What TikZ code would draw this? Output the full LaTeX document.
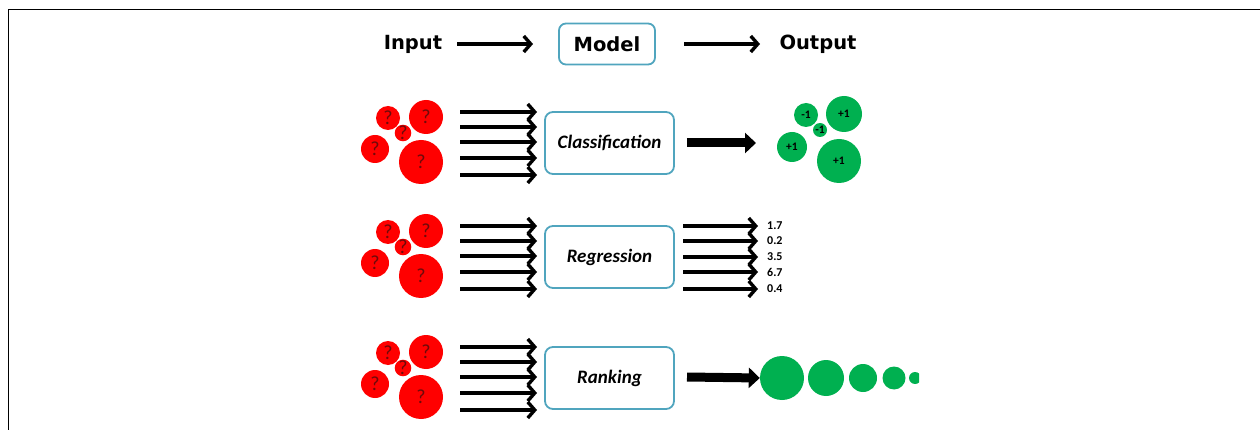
\documentclass[tikz,border=0pt]{standalone}
\usepackage{fontspec}
\setmainfont{Carlito}
\newfontfamily\headfont{DejaVu Sans}
\usetikzlibrary{arrows.meta}
\definecolor{boxblue}{RGB}{80,165,190}
\definecolor{gr}{RGB}{0,176,80}
\definecolor{qm}{RGB}{110,10,10}
\begin{document}
\begin{tikzpicture}[x=1pt,y=-1pt,
  arr/.style={line width=3.4pt,-{Straight Barb[length=7pt,width=16pt]}},
  thick arr/.style={line width=9pt,-{Triangle[length=11pt,width=20pt]}},
  mbox/.style={draw=boxblue,line width=1.8pt,rounded corners=8pt,minimum width=129pt,minimum height=62pt,font=\fontsize{19}{19}\selectfont\bfseries\itshape},
  head/.style={font=\headfont\fontsize{19.5}{19.5}\selectfont\bfseries},
  rq/.style={circle,fill=red,inner sep=0pt,text=qm,font=\fontsize{20}{20}\selectfont},
  gc/.style={circle,fill=gr,inner sep=0pt,font=\fontsize{11.5}{11.5}\selectfont\bfseries},
  num/.style={anchor=west,inner sep=0pt,font=\fontsize{12}{12}\selectfont\bfseries}]
\useasboundingbox (0,0) rectangle (1260,430);
% frame
\draw[line width=1.3pt] (8.5,430) -- (8.5,9.5) -- (1260,9.5);
% header
\node[head] (in) at (413,44) {Input};
\node[draw=boxblue,line width=1.8pt,rounded corners=7pt,minimum width=96pt,minimum height=41pt,head] (model) at (607,44) {Model};
\node[head] (out) at (818,44) {Output};
\coordinate (ha1) at (457,44); \coordinate (hb1) at (533,44);
\coordinate (ha2) at (684,44); \coordinate (hb2) at (760,44);
\draw[arr] (ha1) -- (hb1);
\draw[arr] (ha2) -- (hb2);
% rows
\foreach \r/\dy/\name in {1/0/Classification,2/114/Regression,3/235/Ranking}{
  \begin{scope}[yshift=-\dy pt]
    \node[rq,minimum size=24pt] (q\r a) at (388,118) {?};
    \node[rq,minimum size=34pt] (q\r b) at (426,117) {?};
    \node[rq,minimum size=14pt] (q\r c) at (403,133) {?};
    \node[rq,minimum size=28pt] (q\r d) at (375,149) {?};
    \node[rq,minimum size=44pt] (q\r e) at (421,162) {?};
    \foreach \k/\yy in {1/112,2/127,3/142,4/158,5/175}{
      \coordinate (s\r\k) at (460,\yy);
      \coordinate (e\r\k) at (537,\yy);
      \draw[arr] (s\r\k) -- (e\r\k);
    }
    \node[mbox] (box\r) at (609.5,143) {\raisebox{-2pt}{\name}};
  \end{scope}
}
% classification output
\coordinate (ct) at (756,143);
\draw[thick arr] (box1.east) ++(12,0) coordinate (cs) -- (ct);
\node[gc,minimum size=24pt] (g1) at (806,115) {-1};
\node[gc,minimum size=36pt] (g2) at (844,114) {+1};
\node[gc,minimum size=14pt] (g3) at (820,130) {-1};
\node[gc,minimum size=30pt] (g4) at (792,147) {+1};
\node[gc,minimum size=44pt] (g5) at (839,161) {+1};
% regression output
\foreach \k/\yy/\v in {1/226/1.7,2/241/0.2,3/257/3.5,4/272/6.7,5/289/0.4}{
  \coordinate (rs\k) at (683,\yy);
  \node[num] (n\k) at (767,\yy) {\v};
  \draw[arr,shorten >=9pt] (rs\k) -- (n\k.west);
}
% ranking output
\node[circle,fill=gr,minimum size=44pt,inner sep=0pt] (k1) at (782,378) {};
\node[circle,fill=gr,minimum size=36pt,inner sep=0pt] (k2) at (826,378) {};
\node[circle,fill=gr,minimum size=28pt,inner sep=0pt] (k3) at (863,378) {};
\node[circle,fill=gr,minimum size=23pt,inner sep=0pt] (k4) at (894,378) {};
\begin{scope}
  \clip (900,360) rectangle (919,400);
  \node[circle,fill=gr,minimum size=12pt,inner sep=0pt] (k5) at (915,378) {};
\end{scope}
\coordinate (ks) at (687,377);
\draw[thick arr] (ks) -- (k1.west);
\end{tikzpicture}
\end{document}
